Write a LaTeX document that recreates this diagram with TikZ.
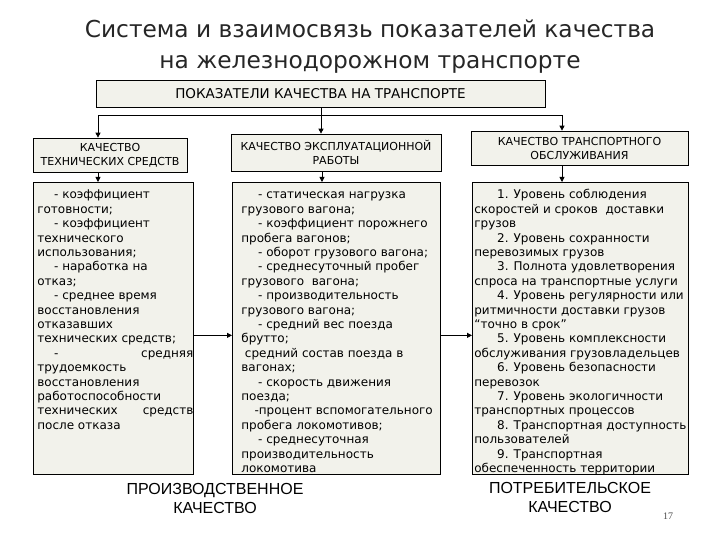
\documentclass[tikz,border=0pt]{standalone}
\usepackage{fontspec}
\setmainfont{DejaVu Sans}
\newfontfamily\labelfont{Liberation Sans}
\newfontfamily\pagefont{Liberation Serif}
\usetikzlibrary{arrows.meta,calc}
\definecolor{boxfill}{RGB}{242,242,235}
\newcommand{\ind}{\hspace*{1.4em}}
% top-aligned text block of a body box: width, height, side padding, text
\newcommand{\boxtext}[4]{\begin{minipage}[t][#2][t]{#1}\fontsize{12}{14.4}\selectfont
  \raggedright\leftskip=#3\rightskip=0pt plus 1fil
  \leavevmode\rule{0pt}{16.5pt}#4\end{minipage}}

\begin{document}
\begin{tikzpicture}[x=1pt,y=-1pt,>={Triangle[length=5pt,width=5pt]},
  head/.style={draw=black,fill=boxfill,line width=0.7pt,align=center,inner sep=0pt,font=\fontsize{11}{14}\selectfont},
  body/.style={draw=black,fill=boxfill,line width=0.7pt,inner sep=0pt,anchor=north west},
  arr/.style={->,draw=black,line width=0.8pt},
  lbl/.style={align=center,font=\labelfont\fontsize{16}{19}\selectfont}]
  \useasboundingbox (0,0) rectangle (720,540);
  \node[align=center,font=\fontsize{23.3}{31}\selectfont,text=black!85] (title) at (370,47)
    {Система и взаимосвязь показателей качества\\на железнодорожном транспорте};
  \node[head,minimum width=449pt,minimum height=27pt,font=\fontsize{13.5}{16}\selectfont] (top) at (320.5,93.5) {ПОКАЗАТЕЛИ КАЧЕСТВА НА ТРАНСПОРТЕ};
  % the three kinds of quality
  \node[head,minimum width=154pt,minimum height=34pt] (h1) at (110,155) {КАЧЕСТВО\\ТЕХНИЧЕСКИХ СРЕДСТВ};
  \node[head,minimum width=210pt,minimum height=37pt] (h2) at (336,152.5) {КАЧЕСТВО ЭКСПЛУАТАЦИОННОЙ\\РАБОТЫ};
  \node[head,minimum width=217pt,minimum height=34pt] (h3) at (579.5,148) {КАЧЕСТВО ТРАНСПОРТНОГО\\ОБСЛУЖИВАНИЯ};
  \node[body] (b1) at (33,182) {\boxtext{160pt}{292pt}{4pt}{%
    \ind- коэффициент\\ готовности;\\ \ind- коэффициент\\ технического\\ использования;\\
    \ind- наработка на\\ отказ;\\ \ind- среднее время\\ восстановления\\ отказавших\\
    технических средств;\\ \ind-\hfill средняя\\ трудоемкость\\ восстановления\\
    работоспособности\\ технических\hfill средств\\ после отказа}};
  \node[body] (b2) at (232,182) {\boxtext{208pt}{292pt}{9pt}{%
    \ind- статическая нагрузка\\ грузового вагона;\\ \ind- коэффициент порожнего\\
    пробега вагонов;\\ \ind- оборот грузового вагона;\\ \ind- среднесуточный пробег\\
    грузового\ \ вагона;\\ \ind- производительность\\ грузового вагона;\\
    \ind- средний вес поезда\\ брутто;\\ \hspace*{0.3em}средний состав поезда в\\ вагонах;\\
    \ind- скорость движения\\ поезда;\\ \hspace*{1.1em}-процент вспомогательного\\
    пробега локомотивов;\\ \ind- среднесуточная\\ производительность\\ локомотива}};
  \node[body] (b3) at (472,182) {\boxtext{216pt}{292pt}{2pt}{%
    \hspace*{1.9em}1. Уровень соблюдения\\ скоростей и сроков\ \ доставки\\ грузов\\
    \hspace*{1.9em}2. Уровень сохранности\\ перевозимых грузов\\
    \hspace*{1.9em}3. Полнота удовлетворения\\ спроса на транспортные услуги\\
    \hspace*{1.9em}4. Уровень регулярности или\\ ритмичности доставки грузов\\ “точно в срок”\\
    \hspace*{1.9em}5. Уровень комплексности\\ обслуживания грузовладельцев\\
    \hspace*{1.9em}6. Уровень безопасности\\ перевозок\\
    \hspace*{1.9em}7. Уровень экологичности\\ транспортных процессов\\
    \hspace*{1.9em}8. Транспортная доступность\\ пользователей\\
    \hspace*{1.9em}9. Транспортная\\ обеспеченность территории}};
  % connectors
  \coordinate (split) at (321,115);
  \draw[arr] (top.south -| split) -- (split |- h2.north);
  \draw[arr] (split) -| ([xshift=-12pt]h1.north);
  \draw[arr] (split) -| ([xshift=-17.5pt]h3.north);
  \draw[arr] ([xshift=-12pt]h1.south) -- ([xshift=-12pt]h1.south |- b1.north);
  \draw[arr] ([xshift=-14pt]h2.south) -- ([xshift=-14pt]h2.south |- b2.north);
  \draw[arr] ([xshift=-17.5pt]h3.south) -- ([xshift=-17.5pt]h3.south |- b3.north);
  \draw[arr] ([yshift=-7pt]b1.east) -- ([yshift=-7pt]b1.east -| b2.west);
  \draw[arr] ([yshift=-7pt]b2.east) -- ([yshift=-7pt]b2.east -| b3.west);
  \node[lbl] (prod) at (215,498) {ПРОИЗВОДСТВЕННОЕ\\КАЧЕСТВО};
  \node[lbl] (cons) at (570,497) {ПОТРЕБИТЕЛЬСКОЕ\\КАЧЕСТВО};
  \node[font=\pagefont\fontsize{10}{12}\selectfont,text=black!70] (page) at (668,516) {17};
\end{tikzpicture}
\end{document}
